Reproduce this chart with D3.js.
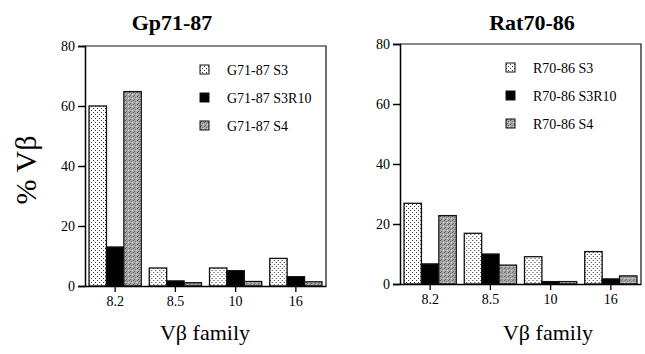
<!DOCTYPE html>
<html>
<head>
<meta charset="utf-8">
<script src="https://cdn.jsdelivr.net/npm/d3@7"></script>
</head>
<body style="margin:0">
<svg id="chart" width="645" height="354" font-family="Liberation Serif"></svg>
<script>
// data
var families = ["8.2", "8.5", "10", "16"];
var yTicks = [0, 20, 40, 60, 80];

var gpSeries = ["G71-87 S3", "G71-87 S3R10", "G71-87 S4"];
var gpS3 = [60, 6, 6, 9.2];
var gpS3R10 = [13, 1.7, 5.1, 3.1];
var gpS4 = [64.8, 1.1, 1.5, 1.4];

var ratSeries = ["R70-86 S3", "R70-86 S3R10", "R70-86 S4"];
var ratS3 = [26.9, 16.9, 9.1, 10.8];
var ratS3R10 = [6.7, 10, 0.8, 1.7];
var ratS4 = [22.8, 6.3, 0.8, 2.7];

var FONT = "Liberation Serif";

var svg = d3.select("#chart");

// fill patterns: dotted white, solid black, speckled grey
var defs = svg.append("defs");
var dots = defs.append("pattern")
    .attr("id", "dots")
    .attr("patternUnits", "userSpaceOnUse")
    .attr("width", 4).attr("height", 4);
dots.append("rect").attr("width", 4).attr("height", 4).attr("fill", "#fff");
dots.append("rect").attr("x", 0).attr("y", 0).attr("width", 1).attr("height", 1).attr("fill", "#333");
dots.append("rect").attr("x", 2).attr("y", 2).attr("width", 1).attr("height", 1).attr("fill", "#333");

var grey = defs.append("pattern")
    .attr("id", "grey")
    .attr("patternUnits", "userSpaceOnUse")
    .attr("width", 4).attr("height", 4);
grey.append("rect").attr("width", 4).attr("height", 4).attr("fill", "#a8a8a8");
grey.append("rect").attr("x", 0).attr("y", 0).attr("width", 1).attr("height", 1).attr("fill", "#555");
grey.append("rect").attr("x", 2).attr("y", 1).attr("width", 1).attr("height", 1).attr("fill", "#777");
grey.append("rect").attr("x", 1).attr("y", 3).attr("width", 1).attr("height", 1).attr("fill", "#666");
grey.append("rect").attr("x", 3).attr("y", 2).attr("width", 1).attr("height", 1).attr("fill", "#ddd");

var fills = ["url(#dots)", "#000", "url(#grey)"];

function drawPanel(p) {
    var x = d3.scaleBand()
        .domain(families)
        .range([p.left, p.right])
        .paddingInner(0.133)
        .paddingOuter(0.067);

    var xs = d3.scaleBand()
        .domain([0, 1, 2])
        .range([0, x.bandwidth()]);

    var y = d3.scaleLinear()
        .domain([0, 80])
        .range([p.bottom, p.top]);

    var g = svg.append("g");

    // frame top + right
    g.append("path")
        .attr("d", "M" + p.left + "," + y(80) + "H" + p.right + "V" + y(0))
        .attr("fill", "none")
        .attr("stroke", "#111")
        .attr("stroke-width", 1.2);

    var rows = families.map(function (f, i) {
        return { fam: f, vals: p.values.map(function (s) { return s[i]; }) };
    });

    var grp = g.selectAll(".grp")
        .data(rows)
        .enter().append("g")
        .attr("transform", function (d) { return "translate(" + x(d.fam) + ",0)"; });

    grp.selectAll("rect")
        .data(function (d) { return d.vals; })
        .enter().append("rect")
        .attr("x", function (d, i) { return xs(i); })
        .attr("y", function (d) { return y(d); })
        .attr("width", xs.bandwidth())
        .attr("height", function (d) { return y(0) - y(d); })
        .attr("fill", function (d, i) { return fills[i]; })
        .attr("stroke", "#111")
        .attr("stroke-width", 1.3);

    var ya = g.append("g")
        .attr("transform", "translate(" + p.left + ",0)")
        .call(d3.axisLeft(y).tickValues(yTicks).tickSize(7).tickPadding(3));
    ya.attr("font-family", FONT).attr("font-size", 14);
    ya.select(".domain").attr("stroke-width", 1.5);
    ya.selectAll("line").attr("stroke-width", 1.5);

    var xa = g.append("g")
        .attr("transform", "translate(0," + y(0) + ")")
        .call(d3.axisBottom(x).tickSize(6).tickSizeOuter(0).tickPadding(4));
    xa.attr("font-family", FONT).attr("font-size", 14);
    xa.select(".domain").attr("stroke-width", 1.5);
    xa.selectAll("line").attr("stroke-width", 1.3);

    // title
    g.append("text")
        .attr("x", p.titleX)
        .attr("y", 30)
        .attr("text-anchor", "middle")
        .attr("font-family", FONT)
        .attr("font-size", 22)
        .attr("font-weight", "bold")
        .text(p.title);

    // x title
    g.append("text")
        .attr("x", p.xTitleX)
        .attr("y", 340)
        .attr("text-anchor", "middle")
        .attr("font-family", FONT)
        .attr("font-size", 22)
        .text("Vβ family");

    // legend
    var lg = g.selectAll(".leg")
        .data(p.series)
        .enter().append("g")
        .attr("transform", function (d, i) { return "translate(" + p.legX + "," + (p.legY + i * 28) + ")"; });
    lg.append("rect")
        .attr("x", 0).attr("y", -5)
        .attr("width", 9).attr("height", 9)
        .attr("fill", function (d, i) { return fills[i]; })
        .attr("stroke", "#111")
        .attr("stroke-width", 1);
    lg.append("text")
        .attr("x", 27)
        .attr("y", 5)
        .attr("font-family", FONT)
        .attr("font-size", 14)
        .text(function (d) { return d; });
}

drawPanel({
    left: 85, right: 326, top: 46, bottom: 286,
    values: [gpS3, gpS3R10, gpS4], series: gpSeries,
    title: "Gp71-87", titleX: 172, xTitleX: 205,
    legX: 200, legY: 70
});

drawPanel({
    left: 400, right: 641, top: 44, bottom: 284,
    values: [ratS3, ratS3R10, ratS4], series: ratSeries,
    title: "Rat70-86", titleX: 532, xTitleX: 548,
    legX: 506, legY: 68
});

// y title
svg.append("text")
    .attr("transform", "translate(36,170) rotate(-90)")
    .attr("text-anchor", "middle")
    .attr("font-family", FONT)
    .attr("font-size", 30)
    .text("% Vβ");
</script>
</body>
</html>
